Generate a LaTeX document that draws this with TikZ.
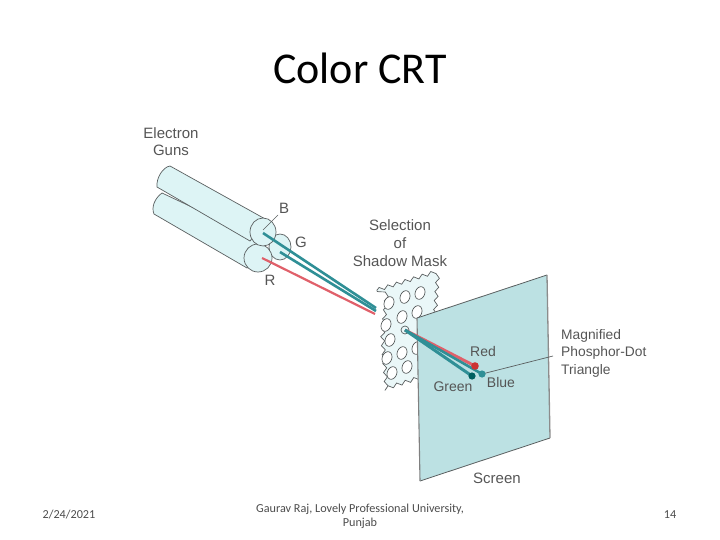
\documentclass[tikz,border=0pt]{standalone}
\usepackage{fontspec}
\setmainfont{Liberation Sans}
\newfontfamily\slidefont{Carlito}
\usetikzlibrary{decorations.pathmorphing}
\definecolor{gunfill}{HTML}{DDF4F5}
\definecolor{maskfill}{HTML}{EAF7F8}
\definecolor{screenfill}{HTML}{BCE1E3}
\definecolor{tealbeam}{HTML}{2F8F96}
\definecolor{redbeam}{HTML}{E0606A}
\definecolor{inkline}{HTML}{5A5F60}
\definecolor{labelgray}{HTML}{555555}
\tikzset{
  lbl/.style={font=\fontsize{15}{17.5}\selectfont, text=labelgray, align=center, inner sep=0pt},
  maglbl/.style={font=\fontsize{13.8}{17.5}\selectfont, text=labelgray, align=left, inner sep=0pt, anchor=west},
  foot/.style={font=\slidefont\fontsize{12.2}{14}\selectfont, text=black!70, align=center, inner sep=0pt},
  gun/.style={draw=inkline, fill=gunfill, line width=0.7pt},
  hole/.style={draw=inkline, fill=white, line width=0.7pt},
  tealray/.style={draw=tealbeam, line width=2.6pt},
  redray/.style={draw=redbeam, line width=2.2pt}
}
\begin{document}
\begin{tikzpicture}[x=1pt,y=-1pt]
\useasboundingbox (0,0) rectangle (720,540);
\node[inner sep=0pt] (title) at (360,68) {\slidefont\fontsize{44}{50}\selectfont Color CRT};
% guns
\draw[gun] (162,193) .. controls (155,198) and (151,207) .. (154,214) -- (247,268) -- (262,240) -- cycle;
\draw[gun] (170,166) .. controls (163,167) and (156,178) .. (157,187) -- (250,241) -- (267,220) -- cycle;
\draw[gun] (280,247) ellipse [x radius=11, y radius=13];
\draw[gun] (258,258) ellipse [x radius=14, y radius=14];
\draw[gun] (263,232) ellipse [x radius=13, y radius=14];
\coordinate (bstart) at (263,233);
\coordinate (gstart) at (280,252);
\coordinate (rstart) at (262,258);
\coordinate (bmask) at (376,308);
\coordinate (gmask) at (376,311);
\coordinate (rmask) at (375,314);
% mask
\draw[draw=inkline, fill=maskfill, line width=0.7pt, decorate, decoration={snake, amplitude=1.8pt, segment length=9pt}]
  (377,290) -- (432,273) -- (428,330) -- (420,378) -- (376,392) -- (372,340) -- cycle;
\foreach \hx/\hy/\hang in {420/293/70, 405/297/70, 389/303/70, 417/312/70, 402/317/70, 386/325/70, 390/340/70, 417/348/70, 402/353/70, 387/358/70, 407/367/70, 392/373/70}
  \draw[hole] (\hx,\hy) ellipse [x radius=6.5, y radius=4.8, rotate=\hang];
% beams to mask
\draw[redray] (rstart) -- (rmask);
\draw[tealray] (gstart) -- (gmask);
\draw[tealray] (bstart) -- (bmask);
% screen
\coordinate (sTL) at (417,318);
\coordinate (sTR) at (547,275);
\coordinate (sBR) at (550,438);
\coordinate (sBL) at (420,481);
\fill[screenfill] (sTL) -- (sTR) -- (sBR) -- (sBL) -- cycle;
\draw[inkline, line width=0.8pt] (sTL) -- (sTR);
\draw[inkline, line width=0.8pt] (sBL) -- (sBR);
\draw[black!50, line width=1.1pt] (sTL) -- (sBL);
\draw[black!45, line width=1.3pt] (sTR) -- (sBR);
% through hole
\coordinate (holec) at (405,330);
\coordinate (reddot) at (475,366);
\coordinate (greendot) at (472,376);
\coordinate (bluedot) at (482,374);
\coordinate (leaderend) at (553,356);
\draw[inkline, line width=0.7pt] (bluedot) -- (leaderend);
\draw[inkline, fill=maskfill, line width=0.7pt] (holec) circle (4);
\draw[redray, line width=3pt] (holec) -- (reddot);
\draw[tealray, line width=3pt] (holec) -- (greendot);
\draw[tealray] (holec) -- (bluedot);
\fill[red!75!black!80] (reddot) circle (3.8);
\fill[teal!75!black] (greendot) circle (3.6);
\fill[tealbeam] (bluedot) circle (3.6);
% labels
\node[lbl] (guns) at (171,141.5) {Electron\\Guns};
\node[lbl] (labB) at (284,208) {B};
\node[lbl] (labG) at (301,242) {G};
\node[lbl] (labR) at (270,280) {R};
\draw[inkline, line width=0.5pt] (labB) ++(-6,7) -- (263,230);
\node[lbl, font=\fontsize{15}{18}\selectfont] (sel) at (400,243) {Selection\\of\\Shadow Mask};
\node[lbl, font=\fontsize{14}{17}\selectfont] (labRed) at (483,351) {Red};
\node[lbl, font=\fontsize{14}{17}\selectfont] (labGreen) at (453,387) {Green};
\node[lbl, font=\fontsize{14}{17}\selectfont] (labBlue) at (501,382) {Blue};
\node[maglbl] (mag) at (561,353) {Magnified\\Phosphor-Dot\\Triangle};
\node[lbl] (labScreen) at (497,478) {Screen};
% footer
\node[foot] (date) at (69,515) {2/24/2021};
\node[foot] (author) at (360,516) {Gaurav Raj, Lovely Professional University,\\Punjab};
\node[foot] (page) at (670,515) {14};
\end{tikzpicture}
\end{document}
